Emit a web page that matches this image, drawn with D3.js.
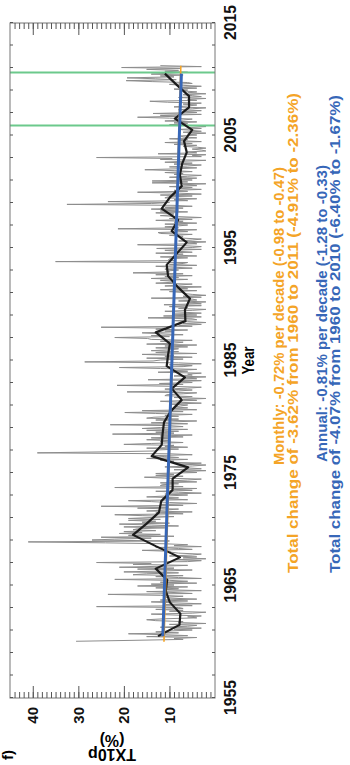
<!DOCTYPE html>
<html>
<head>
<meta charset="utf-8">
<script src="https://cdn.jsdelivr.net/npm/d3@7"></script>
<style>
  html, body { margin: 0; padding: 0; background: #fff; }
  svg { display: block; font-family: "Liberation Sans", Arial, sans-serif; }
</style>
</head>
<body>
<div id="chart"></div>
<script>
// ---- data ----
const yearTicks = [1955, 1965, 1975, 1985, 1995, 2005, 2015];
const valueTicks = [10, 20, 30, 40];

const annualYears = [1960, 1961, 1962, 1963, 1964, 1965, 1966, 1967, 1968, 1969,
  1970, 1971, 1972, 1973, 1974, 1975, 1976, 1977, 1978, 1979,
  1980, 1981, 1982, 1983, 1984, 1985, 1986, 1987, 1988, 1989,
  1990, 1991, 1992, 1993, 1994, 1995, 1996, 1997, 1998, 1999,
  2000, 2001, 2002, 2003, 2004, 2005, 2006, 2007, 2008, 2009, 2010];
const annualValues = [12.5, 7.8, 7.6, 9.9, 10.8, 10.5, 13.0, 7.7, 13.0, 18.0,
  15.0, 12.3, 11.8, 9.3, 9.3, 5.9, 13.9, 11.7, 11.5, 11.2,
  9.7, 7.3, 9.5, 6.6, 10.6, 10.3, 9.9, 13.0, 6.5, 6.6,
  5.5, 8.1, 10.3, 10.6, 8.4, 6.2, 9.5, 8.1, 11.7, 9.9,
  7.3, 7.7, 7.2, 6.2, 6.8, 5.0, 8.8, 5.7, 5.7, 8.4, 11.0];

// monthly values, one row per year starting in 1960
const monthlyStart = 1960;
const monthlyValues = [
  [30.5, 18, 7, 9, 4, 15, 6, 11, 19, 8, 13, 10],
  [5, 9, 3, 12, 6, 4, 10, 2, 8, 7, 13, 15],
  [11, 4, 6, 3, 9, 14, 5, 2, 10, 7, 13, 7],
  [8, 26, 5, 11, 3, 9, 14, 6, 12, 4, 10, 11],
  [7, 12, 23.5, 5, 9, 15, 3, 11, 8, 13, 6, 17],
  [9, 14, 4, 12, 6, 10, 22, 3, 8, 13, 7, 18],
  [15, 8, 20, 11, 5, 17, 9, 21, 12, 6, 18, 14],
  [26, 6, 3, 9, 2, 7, 4, 10, 5, 3, 8, 9.5],
  [10, 16, 5, 8, 13, 3, 9, 6, 11, 24, 41, 10],
  [27, 22, 14, 25, 9, 19, 12, 21, 16, 20, 13, 18],
  [17, 11, 20, 8, 14, 21, 10, 16, 13, 19, 12, 19],
  [14, 9, 16, 22, 7, 13, 5, 15, 11, 8, 17, 10.6],
  [25, 7, 12, 4, 10, 14, 19, 6, 11, 8, 15, 10.6],
  [6, 11, 3, 8, 13, 5, 9, 4, 22, 7, 12, 11.6],
  [8, 12, 4, 10, 6, 3, 11, 15.5, 7, 13, 9, 13],
  [4, 7, 2, 9, 3, 6, 11, 5, 2, 8, 3, 10],
  [9, 12, 6, 15, 8, 11, 14, 5, 10, 39, 25, 13],
  [13, 8, 15, 6, 11, 9, 20, 14, 7, 12, 10, 15],
  [10, 14, 7, 12, 5, 22.5, 9, 13, 8, 15, 6, 16],
  [12, 7, 10, 23, 6, 14, 9, 4, 13, 8, 15, 13.4],
  [8, 11, 5, 13, 19.8, 7, 16, 4, 10, 6, 9, 7.6],
  [6, 10, 3, 8, 12, 4, 7, 2, 9, 5, 11, 10.6],
  [7, 4, 19.3, 8, 5, 11, 6, 3, 10, 21.5, 7, 12.2],
  [5, 8, 3, 14.7, 4, 7, 2, 9, 5, 6, 3, 12.5],
  [6, 9, 4, 12, 21, 7, 5, 10, 3, 8, 28.6, 13.6],
  [12, 7, 15, 5, 11, 9, 16, 4, 13, 8, 14, 9.6],
  [8, 13, 6, 11, 4, 15, 9, 7, 12, 5, 14, 14.8],
  [22, 10, 14, 7, 12, 16, 9, 11, 6, 13, 11, 25],
  [5, 8, 3, 7, 2, 6, 9, 4, 5, 14.7, 3, 11.3],
  [4, 9, 3, 7, 11, 5, 2, 8, 6, 10, 3, 11.2],
  [3, 6, 2, 8, 4, 5, 14, 3, 7, 2, 5, 7],
  [7, 10, 4, 12, 6, 9, 3, 11, 8, 5, 13, 9.2],
  [9, 12, 6, 14, 8, 11, 5, 13, 7, 18, 10, 10.6],
  [8, 11, 5, 9, 13, 4, 10, 7, 6, 35, 9, 10.2],
  [10, 6, 12, 4, 9, 7, 13, 5, 8, 11, 3, 12.8],
  [5, 3, 7, 17, 4, 6, 2, 8, 5, 3, 7, 7.4],
  [7, 10, 5, 12, 12.5, 6, 9, 4, 21.3, 8, 11, 8.2],
  [6, 11, 4, 9, 7, 13, 5, 10, 3, 8, 12, 9.2],
  [9, 13, 6, 12, 8, 14, 7, 11, 5, 9, 32.5, 13.9],
  [10, 23.5, 6, 9, 4, 11, 10.3, 5, 12, 3, 8, 17],
  [6, 9, 3, 8, 5, 10, 4, 7, 2, 13.8, 6, 13.8],
  [5, 8, 4, 10, 6, 3, 9, 7, 11, 5, 8.8, 15.4],
  [8, 4, 10, 6, 3, 9, 5, 11, 7, 2, 12, 9.4],
  [26, 3, 5, 2, 12.5, 4, 6, 2, 3, 5, 2, 3.9],
  [7, 4, 9, 5, 11, 3, 8, 6, 10, 4, 7, 7.6],
  [4, 6, 2, 7, 3, 5, 8, 3, 6, 2, 4, 10],
  [6, 9, 4, 11, 7, 5, 10, 17, 8, 12, 3, 13.6],
  [4, 7, 3, 8, 5, 2, 9, 6, 4, 7, 3, 10.4],
  [14.3, 4, 6, 2, 8, 3, 5, 7, 2, 6, 4, 6.9],
  [6, 9, 4, 8, 3, 7, 10, 5, 6, 13.8, 19.5, 8.5],
  [13, 19.3, 9, 12, 7, 14, 10, 6, 11, 8, 15, 7.7],
  [20.5, 3, 12]
];

const monthlyTrend = [[1960.0, 11.2], [2011.2, 7.5]];
const annualTrend = [[1960.5, 11.45], [2010.5, 7.38]];
const markerYears = [2005.9, 2010.6];

const noteLines = [
  'Monthly: -0.72% per decade (-0.98 to -0.47)',
  'Total change of -3.62% from 1960 to 2011 (-4.91% to -2.36%)',
  'Annual: -0.81% per decade (-1.28 to -0.33)',
  'Total change of -4.07% from 1960 to 2010 (-6.40% to -1.67%)'
];

// ---- layout ----
const W = 350, H = 765;
// the chart is drawn in its normal orientation, then turned a quarter left
const origin = {x: 10, y: 698};
const width = 675;   // along the years
const height = 205;  // along the values

const orange = '#f4a427';
const blue = '#3767b8';

const svg = d3.select('#chart').append('svg')
  .attr('width', W)
  .attr('height', H);

const g = svg.append('g')
  .attr('transform', `translate(${origin.x},${origin.y}) rotate(-90)`);

const x = d3.scaleLinear().domain([1955, 2015]).range([0, width]);
const y = d3.scaleLinear().domain([0, 45]).range([height, 0]);

// ---- series ----
const monthly = [];
monthlyValues.forEach((row, yi) => {
  row.forEach((v, m) => {
    monthly.push({year: monthlyStart + yi + m / 12 + 1 / 24, value: v});
  });
});
const annual = annualYears.map((yr, i) => ({year: yr + 0.5, value: annualValues[i]}));

const line = d3.line()
  .x(d => x(d.year))
  .y(d => y(d.value));

g.append('path')
  .datum(monthly)
  .attr('d', line)
  .attr('fill', 'none')
  .attr('stroke', '#8d8d8d')
  .attr('stroke-width', 1);

g.selectAll('.marker')
  .data(markerYears)
  .enter().append('line')
  .attr('class', 'marker')
  .attr('x1', d => x(d)).attr('x2', d => x(d))
  .attr('y1', 0).attr('y2', height)
  .attr('stroke', '#6cc98c')
  .attr('stroke-width', 2);

g.append('path')
  .datum(annual)
  .attr('d', line)
  .attr('fill', 'none')
  .attr('stroke', '#1c1c1c')
  .attr('stroke-width', 2.2)
  .attr('stroke-linejoin', 'round');

const trendLine = d3.line()
  .x(d => x(d[0]))
  .y(d => y(d[1]));

g.append('path')
  .datum(monthlyTrend)
  .attr('d', trendLine)
  .attr('stroke', orange)
  .attr('stroke-width', 1.6);

g.append('path')
  .datum(annualTrend)
  .attr('d', trendLine)
  .attr('stroke', blue)
  .attr('stroke-width', 3);

// ---- frame and axes ----
g.append('rect')
  .attr('width', width)
  .attr('height', height)
  .attr('fill', 'none')
  .attr('stroke', '#777')
  .attr('stroke-width', 1);

function tidy(sel) {
  sel.select('.domain').remove();
  sel.selectAll('line').attr('stroke', '#555');
}

// year ticks every two years, inward on both long edges
g.append('g')
  .attr('transform', `translate(0,${height})`)
  .call(d3.axisBottom(x).tickValues(d3.range(1955, 2016, 2)).tickSize(-3).tickFormat(''))
  .call(tidy);
g.append('g')
  .call(d3.axisTop(x).tickValues(d3.range(1955, 2016, 2)).tickSize(-3).tickFormat(''))
  .call(tidy);

// year labels
g.append('g')
  .attr('transform', `translate(0,${height})`)
  .call(d3.axisBottom(x).tickValues(yearTicks).tickSize(0).tickPadding(9).tickFormat(d3.format('d')))
  .call(tidy)
  .selectAll('text')
  .attr('fill', '#111')
  .style('font-size', '17px')
  .style('font-weight', 'bold')
  .attr('textLength', 35)
  .attr('lengthAdjust', 'spacingAndGlyphs');

// value ticks: minor every 1, major every 10, inward on both short edges
const minorValues = d3.range(1, 45);
g.append('g')
  .call(d3.axisLeft(y).tickValues(minorValues).tickSize(-6).tickFormat(''))
  .call(tidy);
g.append('g')
  .attr('transform', `translate(${width},0)`)
  .call(d3.axisRight(y).tickValues(minorValues).tickSize(-6).tickFormat(''))
  .call(tidy);
g.append('g')
  .attr('transform', `translate(${width},0)`)
  .call(d3.axisRight(y).tickValues(valueTicks).tickSize(-12).tickFormat(''))
  .call(tidy);
g.append('g')
  .call(d3.axisLeft(y).tickValues(valueTicks).tickSize(-12).tickPadding(9))
  .call(tidy)
  .selectAll('text')
  .attr('fill', '#111')
  .style('font-size', '15px')
  .style('font-weight', 'bold');

// axis titles
g.append('text')
  .attr('x', width / 2)
  .attr('y', 244)
  .attr('text-anchor', 'middle')
  .style('font-size', '17px')
  .style('font-weight', 'bold')
  .attr('textLength', 28)
  .attr('lengthAdjust', 'spacingAndGlyphs')
  .text('Year');

g.append('text')
  .attr('transform', 'translate(-51,102) rotate(-90)')
  .attr('text-anchor', 'middle')
  .style('font-size', '16px')
  .style('font-weight', 'bold')
  .text('TX10p');
g.append('text')
  .attr('transform', 'translate(-37,102) rotate(-90)')
  .attr('text-anchor', 'middle')
  .style('font-size', '16px')
  .style('font-weight', 'bold')
  .text('(%)');

// panel letter at the bottom-left corner
g.append('text')
  .attr('x', -62)
  .attr('y', 3)
  .style('font-size', '15px')
  .style('font-weight', 'bold')
  .text('f)');

// trend notes
const notePos = [
  {x: 233, y: 274, len: 298, color: orange},
  {x: 125, y: 288, len: 480, color: orange},
  {x: 236, y: 317, len: 297, color: blue},
  {x: 125, y: 330, len: 478, color: blue}
];
g.selectAll('.note')
  .data(noteLines)
  .enter().append('text')
  .attr('class', 'note')
  .attr('x', (d, i) => notePos[i].x)
  .attr('y', (d, i) => notePos[i].y)
  .attr('fill', (d, i) => notePos[i].color)
  .attr('textLength', (d, i) => notePos[i].len)
  .attr('lengthAdjust', 'spacingAndGlyphs')
  .style('font-size', '15px')
  .style('font-weight', 'bold')
  .text(d => d);
</script>
</body>
</html>
